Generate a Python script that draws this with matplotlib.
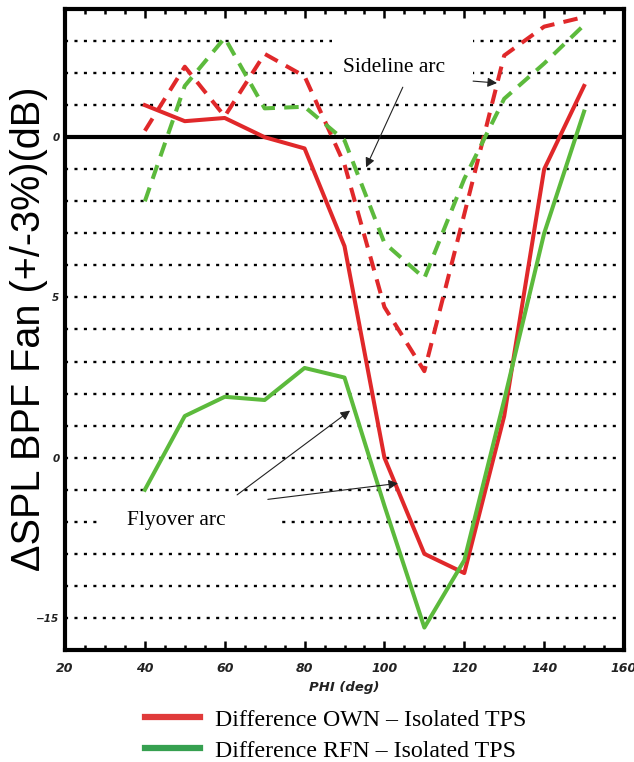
import matplotlib
matplotlib.use("Agg")
import matplotlib.pyplot as plt
from matplotlib.patches import Rectangle
from matplotlib.lines import Line2D
import numpy as np

# PHI angles (deg)
phi = [40, 50, 60, 70, 80, 90, 100, 110, 120, 130, 140, 150]

# flyover arc (solid)
fly_own = [1.0, 0.5, 0.6, 0.0, -0.35, -3.4, -10.0, -13.0, -13.6, -8.7, -1.0, 1.6]
fly_rfn = [-11.0, -8.7, -8.1, -8.2, -7.2, -7.5, -11.5, -15.3, -13.2, -8.2, -3.0, 0.8]

# sideline arc (dashed)
side_own = [0.2, 2.2, 0.65, 2.6, 1.9, -0.85, -5.3, -7.3, -2.4, 2.55, 3.45, 3.75]
side_rfn = [-2.0, 1.6, 3.1, 0.9, 0.95, -0.1, -3.3, -4.4, -1.3, 1.2, 2.3, 3.5]

grid_levels = [v for v in range(-15, 4) if v != 0]
ytick_vals = [0, -5, -10, -15]
ytick_text = ["0", "5", "0", "\u221215"]
xtick_vals = [20, 40, 60, 80, 100, 120, 140, 160]

legend_labels = ["Difference OWN \u2013 Isolated TPS", "Difference RFN \u2013 Isolated TPS"]

RED = "#e0282a"
GREEN = "#5cba3c"
LEG_RED = "#e03a3a"
LEG_GREEN = "#36a050"

W, H = 634, 762
fig = plt.figure(figsize=(W / 100, H / 100), dpi=100)
ax = fig.add_axes([65 / W, 1 - 650 / H, (624 - 65) / W, (650 - 9) / H])

for g in grid_levels:
    ax.axhline(g, color="black", lw=1.7, linestyle=(0, (1.3, 2.7)), zorder=1)
ax.axhline(0, color="black", lw=3.0, zorder=2)

dash = (0, (3.6, 2.3))
ax.plot(phi, fly_own, color=RED, lw=2.9, zorder=4)
ax.plot(phi, fly_rfn, color=GREEN, lw=2.9, zorder=4)
ax.plot(phi, side_own, color=RED, lw=2.9, linestyle=dash, dash_capstyle="butt", zorder=4)
ax.plot(phi, side_rfn, color=GREEN, lw=2.9, linestyle=dash, dash_capstyle="butt", zorder=4)

ax.set_xlim(20, 160)
ax.set_ylim(-16, 4)

ax.set_xticks(xtick_vals)
ax.set_xticks(np.arange(20, 161, 5), minor=True)
ax.tick_params(axis="x", which="both", direction="in", top=True, bottom=True, width=1.8,
               pad=9)
ax.tick_params(axis="x", which="major", length=6.5)
ax.tick_params(axis="x", which="minor", length=3.5)
ax.set_xticklabels([str(v) for v in xtick_vals], fontsize=9, style="italic", weight="bold",
                   color="#222222")

ax.set_yticks(ytick_vals)
ax.set_yticklabels(ytick_text, fontsize=7.5, style="italic", weight="bold", color="#222222")
ax.tick_params(axis="y", length=0, pad=4)

for s in ax.spines.values():
    s.set_linewidth(3.0)

ax.set_xlabel("PHI (deg)", fontsize=9.5, style="italic", weight="bold", labelpad=4,
              color="#222222")
fig.text(29 / W, 1 - 329 / H, "\u0394SPL BPF Fan (+/-3%)(dB)", rotation=90,
         fontsize=28.5, family="Liberation Sans", ha="center", va="center")

# white label boxes
def label_box(x0, y0, x1, y1, text, tx, ty):
    ax.add_patch(Rectangle((x0 / W, 1 - y1 / H), (x1 - x0) / W, (y1 - y0) / H,
                           transform=fig.transFigure, facecolor="white",
                           edgecolor="none", zorder=3))
    fig.text(tx / W, 1 - ty / H, text, fontsize=15.5, family="Liberation Serif",
             ha="center", va="center", zorder=6)

label_box(332, 30, 473, 95, "Sideline arc", 394, 68)
label_box(100, 497, 282, 550, "Flyover arc", 176, 521)

arrows = [
    ((104.6, 1.56), (95.4, -0.94)),
    ((122.2, 1.75), (128.2, 1.69)),
    ((63.1, -11.16), (91.4, -8.53)),
    ((70.8, -11.3), (103.4, -10.8)),
]
for start, end in arrows:
    ax.annotate("", xy=end, xytext=start,
                arrowprops=dict(arrowstyle="-|>", lw=0.8, color="#222222",
                                mutation_scale=14, shrinkA=0, shrinkB=0),
                zorder=5)

handles = [Line2D([], [], color=LEG_RED, lw=4.5), Line2D([], [], color=LEG_GREEN, lw=4.5)]
fig.legend(handles, legend_labels, loc="upper left", bbox_to_anchor=(145 / W, 1 - 709 / H),
           frameon=False, prop={"family": "Liberation Serif", "size": 17.2},
           handlelength=2.3, handletextpad=0.65, labelspacing=0.38, borderaxespad=0,
           borderpad=0)

fig.savefig("out.png", dpi=100)
